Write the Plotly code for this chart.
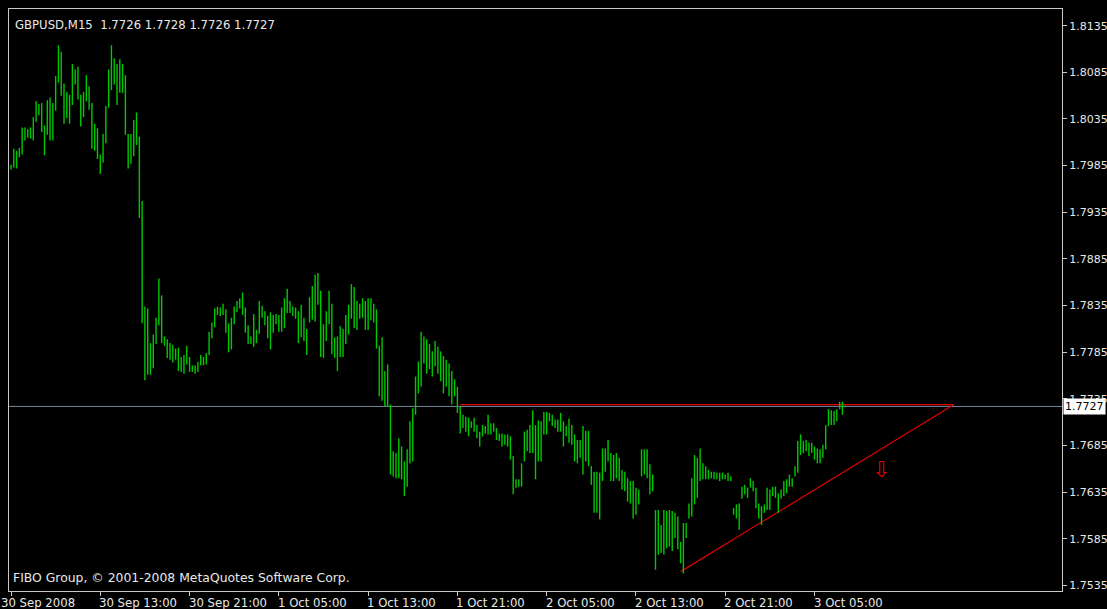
import pandas as pd
import plotly.graph_objects as go

# ---------------- data (GBPUSD, M15) ----------------
start_time = "2008-09-30 05:00"
bar_high = [
    1.7986, 1.8003, 1.8001, 1.8004, 1.8026, 1.8026, 1.8024, 1.8026, 1.8037, 1.8054,
    1.8051, 1.8052, 1.8028, 1.8055, 1.8058, 1.8052, 1.8081, 1.8114, 1.8107, 1.8073,
    1.8064, 1.8061, 1.8094, 1.8088, 1.8091, 1.8061, 1.8064, 1.8082, 1.8070, 1.8052,
    1.8030, 1.8025, 1.7997, 1.8019, 1.8049, 1.8088, 1.8114, 1.8100, 1.8094, 1.8099,
    1.8094, 1.8082, 1.8019, 1.8019, 1.8034, 1.8042, 1.8016, 1.7947, 1.7834, 1.7832,
    1.7795, 1.7804, 1.7822, 1.7864, 1.7846, 1.7802, 1.7799, 1.7795, 1.7793, 1.7789,
    1.7790, 1.7780, 1.7782, 1.7792, 1.7780, 1.7771, 1.7771, 1.7775, 1.7782, 1.7780,
    1.7784, 1.7807, 1.7817, 1.7832, 1.7834, 1.7833, 1.7837, 1.7831, 1.7816, 1.7822,
    1.7834, 1.7840, 1.7843, 1.7849, 1.7833, 1.7814, 1.7802, 1.7826, 1.7809, 1.7840,
    1.7835, 1.7829, 1.7824, 1.7828, 1.7825, 1.7826, 1.7825, 1.7833, 1.7843, 1.7853,
    1.7840, 1.7834, 1.7833, 1.7829, 1.7836, 1.7822, 1.7810, 1.7844, 1.7856, 1.7868,
    1.7870, 1.7851, 1.7815, 1.7829, 1.7851, 1.7837, 1.7801, 1.7802, 1.7813, 1.7810,
    1.7825, 1.7836, 1.7858, 1.7855, 1.7840, 1.7837, 1.7843, 1.7840, 1.7843, 1.7843,
    1.7837, 1.7831, 1.7792, 1.7801, 1.7765, 1.7772, 1.7729, 1.7679, 1.7677, 1.7693,
    1.7684, 1.7668, 1.7681, 1.7711, 1.7725, 1.7759, 1.7775, 1.7807, 1.7802, 1.7799,
    1.7794, 1.7786, 1.7797, 1.7791, 1.7786, 1.7781, 1.7777, 1.7773, 1.7765, 1.7756,
    1.7748, 1.7727, 1.7718, 1.7716, 1.7715, 1.7711, 1.7715, 1.7707, 1.7700, 1.7707,
    1.7706, 1.7718, 1.7709, 1.7709, 1.7704, 1.7698, 1.7698, 1.7697, 1.7697, 1.7695,
    1.7674, 1.7649, 1.7649, 1.7666, 1.7700, 1.7702, 1.7707, 1.7723, 1.7707, 1.7712,
    1.7711, 1.7721, 1.7721, 1.7720, 1.7718, 1.7713, 1.7713, 1.7720, 1.7711, 1.7706,
    1.7714, 1.7707, 1.7697, 1.7691, 1.7691, 1.7706, 1.7701, 1.7701, 1.7663, 1.7657,
    1.7657, 1.7656, 1.7682, 1.7682, 1.7691, 1.7677, 1.7675, 1.7677, 1.7672, 1.7659,
    1.7657, 1.7650, 1.7647, 1.7647, 1.7640, 1.7638, 1.7681, 1.7681, 1.7681, 1.7665,
    1.7654, 1.7616, 1.7616, 1.7600, 1.7616, 1.7615, 1.7616, 1.7615, 1.7613, 1.7609,
    1.7582, 1.7602, 1.7602, 1.7623, 1.7650, 1.7675, 1.7672, 1.7682, 1.7666, 1.7663,
    1.7659, 1.7657, 1.7657, 1.7656, 1.7656, 1.7656, 1.7654, 1.7656, 1.7652, 1.7618,
    1.7622, 1.7623, 1.7641, 1.7643, 1.7640, 1.7650, 1.7647, 1.7640, 1.7623, 1.7620,
    1.7622, 1.7640, 1.7638, 1.7641, 1.7641, 1.7634, 1.7638, 1.7647, 1.7649, 1.7654,
    1.7650, 1.7663, 1.7690, 1.7697, 1.7690, 1.7691, 1.7688, 1.7688, 1.7684, 1.7682,
    1.7681, 1.7686, 1.7707, 1.7724, 1.7723, 1.7722, 1.7724, 1.7732, 1.7732, 1.7728,
]
bar_low = [
    1.7981, 1.7983, 1.7982, 1.7994, 1.7997, 1.8012, 1.8015, 1.8014, 1.8012, 1.8032,
    1.8039, 1.8021, 1.7996, 1.8018, 1.8012, 1.8012, 1.8044, 1.8074, 1.8060, 1.8030,
    1.8036, 1.8030, 1.8050, 1.8072, 1.8056, 1.8027, 1.8037, 1.8054, 1.8045, 1.8003,
    1.8001, 1.7992, 1.7976, 1.7988, 1.8009, 1.8047, 1.8066, 1.8072, 1.8050, 1.8063,
    1.8063, 1.8018, 1.7982, 1.7987, 1.7995, 1.8007, 1.7929, 1.7816, 1.7755, 1.7761,
    1.7761, 1.7768, 1.7794, 1.7814, 1.7795, 1.7792, 1.7779, 1.7777, 1.7774, 1.7777,
    1.7765, 1.7764, 1.7762, 1.7772, 1.7764, 1.7764, 1.7762, 1.7764, 1.7771, 1.7771,
    1.7772, 1.7782, 1.7800, 1.7812, 1.7825, 1.7824, 1.7825, 1.7806, 1.7785, 1.7788,
    1.7815, 1.7828, 1.7832, 1.7825, 1.7806, 1.7794, 1.7794, 1.7791, 1.7795, 1.7805,
    1.7822, 1.7814, 1.7800, 1.7788, 1.7806, 1.7815, 1.7807, 1.7807, 1.7811, 1.7827,
    1.7827, 1.7824, 1.7821, 1.7795, 1.7801, 1.7797, 1.7782, 1.7817, 1.7820, 1.7818,
    1.7836, 1.7780, 1.7779, 1.7797, 1.7815, 1.7783, 1.7779, 1.7765, 1.7780, 1.7780,
    1.7794, 1.7804, 1.7821, 1.7811, 1.7809, 1.7821, 1.7822, 1.7809, 1.7809, 1.7819,
    1.7817, 1.7789, 1.7738, 1.7733, 1.7727, 1.7727, 1.7654, 1.7652, 1.7650, 1.7650,
    1.7649, 1.7631, 1.7641, 1.7666, 1.7668, 1.7718, 1.7741, 1.7748, 1.7773, 1.7762,
    1.7767, 1.7759, 1.7770, 1.7762, 1.7754, 1.7741, 1.7748, 1.7738, 1.7729, 1.7738,
    1.7720, 1.7698, 1.7704, 1.7700, 1.7695, 1.7704, 1.7700, 1.7693, 1.7684, 1.7695,
    1.7698, 1.7697, 1.7697, 1.7700, 1.7691, 1.7690, 1.7684, 1.7686, 1.7684, 1.7670,
    1.7633, 1.7640, 1.7641, 1.7641, 1.7668, 1.7679, 1.7677, 1.7677, 1.7649, 1.7668,
    1.7668, 1.7697, 1.7697, 1.7711, 1.7706, 1.7704, 1.7700, 1.7700, 1.7684, 1.7695,
    1.7688, 1.7686, 1.7668, 1.7666, 1.7672, 1.7654, 1.7668, 1.7663, 1.7643, 1.7613,
    1.7613, 1.7606, 1.7647, 1.7657, 1.7668, 1.7647, 1.7647, 1.7650, 1.7647, 1.7638,
    1.7636, 1.7625, 1.7623, 1.7607, 1.7611, 1.7622, 1.7652, 1.7654, 1.7650, 1.7633,
    1.7636, 1.7552, 1.7568, 1.7570, 1.7568, 1.7575, 1.7577, 1.7572, 1.7586, 1.7574,
    1.7559, 1.7548, 1.7586, 1.7607, 1.7609, 1.7622, 1.7629, 1.7647, 1.7649, 1.7649,
    1.7649, 1.7650, 1.7649, 1.7649, 1.7647, 1.7649, 1.7649, 1.7647, 1.7647, 1.7611,
    1.7607, 1.7595, 1.7628, 1.7633, 1.7629, 1.7640, 1.7636, 1.7618, 1.7607, 1.7600,
    1.7613, 1.7616, 1.7616, 1.7631, 1.7629, 1.7613, 1.7628, 1.7631, 1.7634, 1.7641,
    1.7641, 1.7652, 1.7656, 1.7675, 1.7677, 1.7679, 1.7674, 1.7677, 1.7670, 1.7666,
    1.7666, 1.7672, 1.7681, 1.7706, 1.7707, 1.7707, 1.7711, 1.7724, 1.7718, 1.7726,
]
last_ohlc = [1.7726, 1.7728, 1.7726, 1.7727]
current_price = 1.7727

# x-axis labels (every 8 hours)
tick_times = ["2008-09-30 05:00", "2008-09-30 13:00", "2008-09-30 21:00", "2008-10-01 05:00",
              "2008-10-01 13:00", "2008-10-01 21:00", "2008-10-02 05:00", "2008-10-02 13:00",
              "2008-10-02 21:00", "2008-10-03 05:00"]
tick_labels = ["30 Sep 2008", "30 Sep 13:00", "30 Sep 21:00", "1 Oct 05:00", "1 Oct 13:00",
               "1 Oct 21:00", "2 Oct 05:00", "2 Oct 13:00", "2 Oct 21:00", "3 Oct 05:00"]
price_ticks = [1.7535, 1.7585, 1.7635, 1.7685, 1.7735, 1.7785, 1.7835, 1.7885,
               1.7935, 1.7985, 1.8035, 1.8085, 1.8135]

# drawn objects
resistance_x = ["2008-10-01 21:15", "2008-10-03 17:30"]
resistance_y = [1.7729, 1.7729]
trend_x = ["2008-10-02 17:00", "2008-10-03 17:30"]
trend_y = [1.7550, 1.7729]
arrow_x = "2008-10-03 11:00"
arrow_y = 1.7659

# ---------------- figure ----------------
times = pd.date_range(start_time, periods=len(bar_high), freq="15min")
xs, ys = [], []
for t, h, l in zip(times, bar_high, bar_low):
    xs += [t, t, None]
    ys += [l, h, None]

FONT = "DejaVu Sans"
FG = "#e8e8e8"
BAR = "#00c800"

fig = go.Figure()
fig.add_trace(go.Scatter(x=resistance_x, y=resistance_y, mode="lines",
                         line=dict(color="#e00000", width=1.2), hoverinfo="skip"))
fig.add_trace(go.Scatter(x=trend_x, y=trend_y, mode="lines",
                         line=dict(color="#e00000", width=1.2), hoverinfo="skip"))
fig.add_trace(go.Scatter(x=xs, y=ys, mode="lines", connectgaps=False,
                         line=dict(color=BAR, width=1.4), hoverinfo="skip"))

bar_minutes = 15
x_start = times[0] - pd.Timedelta(minutes=bar_minutes * 0.717)
x_end = times[0] + pd.Timedelta(minutes=bar_minutes * 376.7)

fig.add_shape(type="line", xref="paper", x0=0, x1=1, yref="y", y0=current_price, y1=current_price,
              line=dict(color="#778899", width=1), layer="below")

annotations = []
for i, (tt, lab) in enumerate(zip(tick_times, tick_labels)):
    annotations.append(dict(x=tt, xref="x", y=0, yref="paper", yanchor="top", xanchor="left",
                            text=lab, showarrow=False, yshift=-3, xshift=(-12 if i == 0 else -3),
                            font=dict(family=FONT, size=11.7, color=FG)))
annotations.append(dict(x=0, xref="paper", y=1, yref="paper", xanchor="left", yanchor="top",
                        xshift=4, yshift=-7, showarrow=False,
                        text="GBPUSD,M15  " + " ".join(f"{v:.4f}" for v in last_ohlc),
                        font=dict(family=FONT, size=11.7, color=FG)))
annotations.append(dict(x=0, xref="paper", y=0, yref="paper", xanchor="left", yanchor="bottom",
                        xshift=2, yshift=4, showarrow=False,
                        text="FIBO Group, © 2001-2008 MetaQuotes Software Corp.",
                        font=dict(family=FONT, size=12.4, color=FG)))
annotations.append(dict(x=1, xref="paper", y=current_price, yref="y", xanchor="left", yanchor="middle",
                        xshift=1, showarrow=False, text=f"{current_price:.4f}",
                        bgcolor="white", borderpad=1,
                        font=dict(family=FONT, size=11, color="black")))
annotations.append(dict(x=arrow_x, xref="x", y=arrow_y, yref="y", showarrow=False, text="⇩",
                        font=dict(family=FONT, size=22, color="#e00000")))

fig.update_layout(
    width=1107, height=609,
    margin=dict(l=9, r=45, t=9, b=18, autoexpand=False),
    paper_bgcolor="black", plot_bgcolor="black",
    showlegend=False,
    annotations=annotations,
    xaxis=dict(type="date", range=[x_start, x_end], showgrid=False, zeroline=False,
               showline=True, mirror=True, linecolor="#c8c8c8", linewidth=1,
               tickvals=tick_times, ticks="outside", ticklen=4, tickcolor="#c8c8c8",
               showticklabels=False, fixedrange=True, automargin=False),
    yaxis=dict(range=[1.752924, 1.815284], side="right", showgrid=False, zeroline=False,
               showline=True, mirror=True, linecolor="#c8c8c8", linewidth=1,
               tickvals=price_ticks, ticktext=[f"{v:.4f}" for v in price_ticks],
               ticks="outside", ticklen=4, tickcolor="#c8c8c8",
               tickfont=dict(family=FONT, size=11, color=FG), fixedrange=True, automargin=False),
)

fig.write_html("out.html", config={"displayModeBar": False},
               post_script="document.body.style.margin='0';document.body.style.background='black';")
